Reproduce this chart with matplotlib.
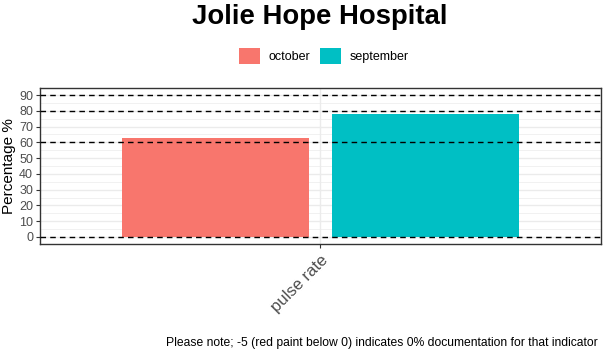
import matplotlib
matplotlib.use("Agg")
import matplotlib.pyplot as plt
from matplotlib.patches import Patch
import numpy as np

plt.rcParams['font.family'] = ['Liberation Sans', 'DejaVu Sans']

categories = ["pulse rate"]
months = ["october", "september"]
values = {"october": [63], "september": [78]}
colors = {"october": "#F8766D", "september": "#00BFC4"}
hlines = [0, 60, 80, 90]
yticks = list(range(0, 100, 10))

W, H = 606, 358
fig = plt.figure(figsize=(W/100, H/100), dpi=100)
ax = fig.add_axes([40/W, 1-244/H, (601-40)/W, (244-88)/H])

x = np.arange(1, len(categories)+1)
dodge = 0.9
bw = 0.4
for i, m in enumerate(months):
    off = (i - (len(months)-1)/2) * dodge/len(months)
    ax.bar(x + off, values[m], width=bw, color=colors[m], zorder=2)

for h in hlines:
    ax.axhline(h, color='black', linestyle=(0, (4, 3)), linewidth=1.0, zorder=3)

ax.set_xlim(0.4, 1.6)
ax.set_ylim(-4.5, 94.5)
ax.set_yticks(yticks)
ax.set_yticks(list(range(5, 95, 10)), minor=True)
ax.set_xticks(x)
ax.set_xticklabels(categories, rotation=45, ha='right', rotation_mode='anchor',
                   fontsize=12, color='#4D4D4D')
ax.tick_params(axis='y', labelsize=9, labelcolor='#4D4D4D', length=3, color='#333333', pad=2)
ax.tick_params(axis='y', which='minor', length=0)
ax.tick_params(axis='x', length=3, color='#333333', pad=3)
ax.grid(which='major', color='#EBEBEB', linewidth=1.0, zorder=0)
ax.grid(which='minor', axis='y', color='#EBEBEB', linewidth=0.5, zorder=0)
for s in ax.spines.values():
    s.set_color('#333333')
    s.set_linewidth(1.0)
ax.set_axisbelow(True)
ax.set_ylabel("Percentage %", fontsize=11, labelpad=2)

fig.text(320/W, 1-17/H, "Jolie Hope Hospital", ha='center', va='center',
         fontsize=19.8, fontweight='bold')

handles = [Patch(facecolor=colors[m], edgecolor='none', label=m) for m in months]
fig.legend(handles=handles, loc='center', bbox_to_anchor=(324/W, 1-56/H), ncol=2,
           frameon=False, fontsize=9, handlelength=1.7, handleheight=1.7,
           handletextpad=0.7, columnspacing=0.75)

fig.text(598/W, 1-343/H,
         "Please note; -5 (red paint below 0) indicates 0% documentation for that indicator",
         ha='right', va='center', fontsize=8.75)

fig.savefig("out.png", dpi=100)
